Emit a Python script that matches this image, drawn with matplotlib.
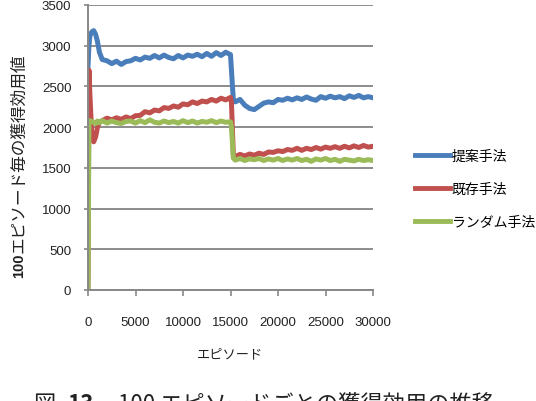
import matplotlib
matplotlib.use("Agg")
import matplotlib.pyplot as plt

episodes = ([0, 100, 200, 400, 600, 800, 1000, 1200, 1500]
            + list(range(2000, 15001, 500))
            + [15100, 15300]
            + list(range(15500, 30001, 500)))

proposed = [2750, 3000, 3120, 3170, 3185, 3140, 3050, 2920, 2830,
            2815, 2780, 2810, 2770, 2805, 2815, 2845, 2825, 2860, 2845, 2880, 2850, 2885, 2855,
            2840, 2880, 2850, 2885, 2870, 2895, 2865, 2905, 2870, 2915, 2880, 2920, 2890,
            2700, 2330,
            2310, 2340, 2270, 2230, 2215, 2255, 2295, 2310, 2300, 2340, 2330, 2355, 2335, 2360,
            2340, 2370, 2345, 2330, 2375, 2355, 2380, 2360, 2375, 2350, 2385, 2365, 2390, 2360,
            2375, 2360]

existing = [0, 2700, 2400, 1900, 1820, 1880, 2000, 2060, 2080,
            2110, 2090, 2115, 2095, 2125, 2105, 2140, 2145, 2190, 2175, 2210, 2200, 2240, 2230,
            2260, 2245, 2285, 2275, 2310, 2290, 2320, 2310, 2340, 2320, 2355, 2335, 2365,
            2300, 1660,
            1640, 1665, 1645, 1670, 1655, 1680, 1665, 1695, 1690, 1710, 1700, 1725, 1715, 1740,
            1715, 1740, 1725, 1750, 1730, 1755, 1740, 1760, 1740, 1765, 1745, 1770, 1750, 1775,
            1755, 1765]

random_m = [0, 2050, 2080, 2070, 2060, 2045, 2075, 2055, 2080,
            2050, 2075, 2055, 2045, 2070, 2075, 2050, 2080, 2055, 2090, 2060, 2050, 2075, 2055,
            2070, 2050, 2080, 2055, 2075, 2050, 2070, 2060, 2080, 2055, 2075, 2060, 2065,
            2000, 1620,
            1595, 1615, 1590, 1610, 1600, 1615, 1590, 1610, 1595, 1615, 1590, 1610, 1595, 1615,
            1590, 1605, 1580, 1610, 1595, 1615, 1590, 1605, 1580, 1605, 1595, 1585, 1605, 1590,
            1600, 1590]

series_names = ["提案手法", "既存手法", "ランダム手法"]
colors = ["#4A7EBB", "#C0504D", "#9BBB59"]
yticks = [0, 500, 1000, 1500, 2000, 2500, 3000, 3500]
xticks = [0, 5000, 10000, 15000, 20000, 25000, 30000]

JP = ["Noto Sans CJK JP", "DejaVu Sans"]
NUM = ["Liberation Sans", "DejaVu Sans"]

fig = plt.figure(figsize=(5.36, 4.02), dpi=100)
ax = fig.add_axes([88/536, 1-291/402, (373-88)/536, (291-6)/402])

for vals, name, c in zip([proposed, existing, random_m], series_names, colors):
    ax.plot(episodes, vals, color=c, lw=3.6, label=name, solid_joinstyle="round")

ax.set_xlim(0, 30000)
ax.set_ylim(0, 3500)
ax.set_xticks(xticks)
ax.set_yticks(yticks)
ax.set_xticklabels([str(v) for v in xticks], family=NUM, fontsize=9.5, color="#222222")
ax.set_yticklabels([str(v) for v in yticks], family=NUM, fontsize=9.5, color="#222222")
ax.tick_params(axis="x", length=4, width=1.2, color="#888888", pad=15)
ax.tick_params(axis="y", length=3, width=1.2, color="#888888", pad=9)
ax.yaxis.grid(True, color="#8C8C8C", lw=1.4)
ax.set_axisbelow(True)
for s in ["top", "right"]:
    ax.spines[s].set_visible(False)
for s in ["left", "bottom"]:
    ax.spines[s].set_color("#888888")
    ax.spines[s].set_linewidth(1.4)

ax.set_xlabel("エピソード", family=JP, fontsize=9.5, color="#222222", labelpad=14)

# y label: bold "100" then Japanese text, rotated
yl_x = 19/536
y0 = 1 - 278/402
t1 = fig.text(yl_x, y0, "100", rotation=90, ha="center", va="bottom",
              family=NUM, fontsize=10.5, weight="bold", color="#222222")
fig.canvas.draw()
bb = t1.get_window_extent()
h = bb.height / fig.bbox.height
fig.text(yl_x, y0 + h, "エピソード毎の獲得効用値", rotation=90, ha="center", va="bottom",
         family=JP, fontsize=12, color="#222222")

leg = ax.legend(loc="center left", bbox_to_anchor=(415/536, 1-190/402),
                bbox_transform=fig.transFigure, frameon=False, prop={"family": JP, "size": 10},
                handlelength=2.5, handletextpad=0.15, labelspacing=1.35,
                borderpad=0, borderaxespad=0)
for line in leg.get_lines():
    line.set_linewidth(3.5)

# caption (cut off at the bottom edge, as in the reference)
cap_y = 1 - 411/402
fig.text(33/536, cap_y, "図", family=JP, fontsize=16, va="baseline", ha="left", color="#222222")
fig.text(67/536, cap_y, "13", family=JP, fontsize=16, weight="bold", va="baseline", ha="left", color="#222222")
fig.text(118/536, cap_y, "100 エピソードごとの獲得効用の推移", family=JP, fontsize=16,
         va="baseline", ha="left", color="#222222")

fig.savefig("out.png", dpi=100)
